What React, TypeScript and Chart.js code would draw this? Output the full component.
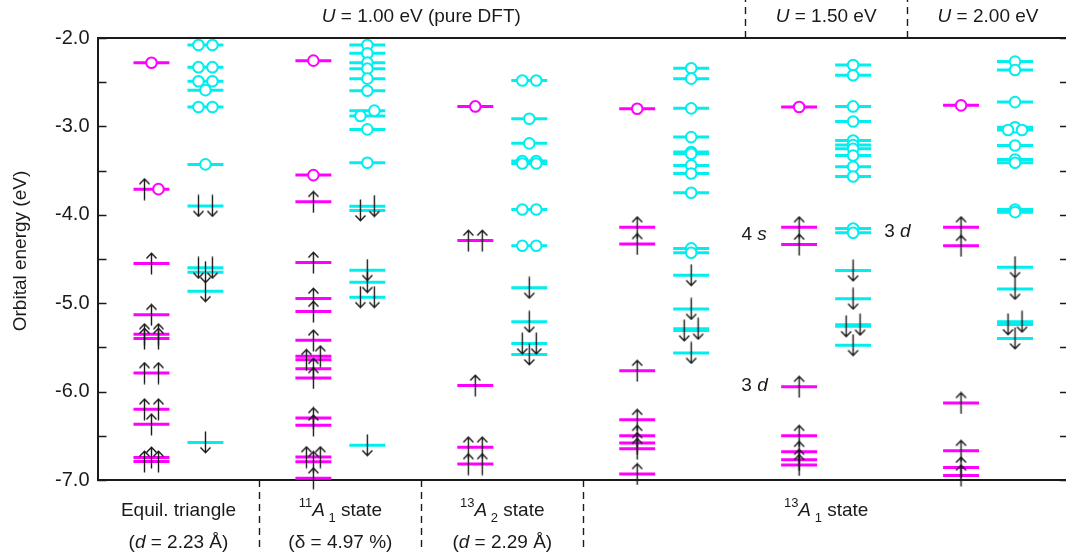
import React, { useEffect, useRef } from 'react';
import { Chart, registerables } from 'chart.js';
Chart.register(...registerables);

const MAGENTA = '#ff00ff';
const CYAN = '#00eeee';
const INK = '#1a1a1a';
const FONT = '"Liberation Sans", Arial, Helvetica, sans-serif';

// x axis: 6 configurations, one unit each; majority spin column at g+1/3, minority at g+2/3
const groupCount = 6;
const yMin = -7.0;
const yMax = -2.0;
const yStep = 0.5;

// Each electron / hole entry: [energy (eV), slot (-1 left, 0 centre, +1 right)]
type Mark = [number, number];

// Group 0: equilateral triangle (U = 1.00 eV)
const eqMajLevels = [-2.28, -3.71, -4.55, -5.13, -5.35, -5.40, -5.79, -6.20, -6.37, -6.745, -6.79];
const eqMajElectrons: Mark[] = [[-3.71, -1], [-4.55, 0], [-5.13, 0], [-5.35, -1], [-5.35, 1], [-5.40, -1], [-5.40, 1], [-5.79, -1], [-5.79, 1], [-6.20, -1], [-6.20, 1], [-6.37, 0], [-6.745, 0], [-6.79, -1], [-6.79, 1]];
const eqMajHoles: Mark[] = [[-2.28, 0], [-3.71, 1]];
const eqMinLevels = [-2.08, -2.33, -2.49, -2.59, -2.78, -3.43, -3.90, -4.60, -4.65, -4.865, -6.575];
const eqMinElectrons: Mark[] = [[-3.90, -1], [-3.90, 1], [-4.60, -1], [-4.60, 1], [-4.65, 0], [-4.865, 0], [-6.575, 0]];
const eqMinHoles: Mark[] = [[-2.08, -1], [-2.08, 1], [-2.33, -1], [-2.33, 1], [-2.49, -1], [-2.49, 1], [-2.59, 0], [-2.78, -1], [-2.78, 1], [-3.43, 0]];

// Group 1: 11A1 state
const a11MajLevels = [-2.256, -3.551, -3.853, -4.54, -4.947, -5.095, -5.42, -5.60, -5.64, -5.741, -5.846, -6.298, -6.382, -6.741, -6.794, -6.98];
const a11MajElectrons: Mark[] = [[-3.853, 0], [-4.54, 0], [-4.947, 0], [-5.095, 0], [-5.42, 0], [-5.60, 1], [-5.64, -1], [-5.741, 0], [-5.846, 0], [-6.298, 0], [-6.382, 0], [-6.741, -1], [-6.741, 1], [-6.794, 0], [-6.98, 0]];
const a11MajHoles: Mark[] = [[-2.256, 0], [-3.551, 0]];
const a11MinLevels = [-2.079, -2.173, -2.279, -2.347, -2.46, -2.596, -2.822, -2.883, -3.034, -3.411, -3.902, -3.951, -4.626, -4.762, -4.932, -6.608];
const a11MinElectrons: Mark[] = [[-3.902, 1], [-3.951, -1], [-4.626, 0], [-4.762, 0], [-4.932, -1], [-4.932, 1], [-6.608, 0]];
const a11MinHoles: Mark[] = [[-2.079, 0], [-2.173, 0], [-2.279, 0], [-2.347, 0], [-2.46, 0], [-2.596, 0], [-2.822, 1], [-2.883, -1], [-3.034, 0], [-3.411, 0]];

// Group 2: 13A2 state
const a2MajLevels = [-2.774, -4.291, -5.93, -6.63, -6.82];
const a2MajElectrons: Mark[] = [[-4.291, -1], [-4.291, 1], [-5.93, 0], [-6.63, -1], [-6.63, 1], [-6.82, -1], [-6.82, 1]];
const a2MajHoles: Mark[] = [[-2.774, 0]];
const a2MinLevels = [-2.48, -2.913, -3.192, -3.392, -3.419, -3.94, -4.35, -4.826, -5.211, -5.457, -5.58];
const a2MinElectrons: Mark[] = [[-4.826, 0], [-5.211, 0], [-5.457, -1], [-5.457, 1], [-5.58, 0]];
const a2MinHoles: Mark[] = [[-2.48, -1], [-2.48, 1], [-2.913, 0], [-3.192, 0], [-3.392, -1], [-3.392, 1], [-3.419, -1], [-3.419, 1], [-3.94, -1], [-3.94, 1], [-4.35, -1], [-4.35, 1]];

// Group 3: 13A1 state, U = 1.00 eV
const u100MajLevels = [-2.80, -4.14, -4.33, -5.763, -6.318, -6.499, -6.582, -6.646, -6.932];
const u100MajElectrons: Mark[] = [[-4.14, 0], [-4.33, 0], [-5.763, 0], [-6.318, 0], [-6.499, 0], [-6.582, 0], [-6.646, 0], [-6.932, 0]];
const u100MajHoles: Mark[] = [[-2.80, 0]];
const u100MinLevels = [-2.343, -2.46, -2.796, -3.121, -3.29, -3.31, -3.441, -3.532, -3.751, -4.38, -4.43, -4.684, -5.065, -5.29, -5.31, -5.563];
const u100MinElectrons: Mark[] = [[-4.684, 0], [-5.065, 0], [-5.29, 1], [-5.31, -1], [-5.563, 0]];
const u100MinHoles: Mark[] = [[-2.343, 0], [-2.46, 0], [-2.796, 0], [-3.121, 0], [-3.29, 0], [-3.31, 0], [-3.441, 0], [-3.532, 0], [-3.751, 0], [-4.38, 0], [-4.43, 0]];

// Group 4: 13A1 state, U = 1.50 eV
const u150MajLevels = [-2.781, -4.14, -4.336, -5.944, -6.499, -6.68, -6.77, -6.83];
const u150MajElectrons: Mark[] = [[-4.14, 0], [-4.336, 0], [-5.944, 0], [-6.499, 0], [-6.68, 0], [-6.77, 0], [-6.83, 0]];
const u150MajHoles: Mark[] = [[-2.781, 0]];
const u150MinLevels = [-2.305, -2.422, -2.774, -2.944, -3.16, -3.21, -3.253, -3.329, -3.456, -3.566, -4.155, -4.204, -4.631, -4.95, -5.244, -5.262, -5.475];
const u150MinElectrons: Mark[] = [[-4.631, 0], [-4.95, 0], [-5.244, 1], [-5.262, -1], [-5.475, 0]];
const u150MinHoles: Mark[] = [[-2.305, 0], [-2.422, 0], [-2.774, 0], [-2.944, 0], [-3.16, 0], [-3.21, 0], [-3.253, 0], [-3.329, 0], [-3.456, 0], [-3.566, 0], [-4.155, 0], [-4.204, 0]];

// Group 5: 13A1 state, U = 2.00 eV
const u200MajLevels = [-2.762, -4.14, -4.35, -6.128, -6.669, -6.858, -6.948];
const u200MajElectrons: Mark[] = [[-4.14, 0], [-4.35, 0], [-6.128, 0], [-6.669, 0], [-6.858, 0], [-6.948, 0]];
const u200MajHoles: Mark[] = [[-2.762, 0]];
const u200MinLevels = [-2.267, -2.362, -2.725, -3.01, -3.04, -3.216, -3.374, -3.411, -3.94, -3.97, -4.593, -4.838, -5.21, -5.24, -5.40];
const u200MinElectrons: Mark[] = [[-4.593, 0], [-4.838, 0], [-5.21, 1], [-5.24, -1], [-5.40, 0]];
const u200MinHoles: Mark[] = [[-2.267, 0], [-2.362, 0], [-2.725, 0], [-3.01, 0], [-3.04, -1], [-3.04, 1], [-3.216, 0], [-3.374, 0], [-3.411, 0], [-3.94, 0], [-3.97, 0]];

const majorityColumns = [
  { levels: eqMajLevels, electrons: eqMajElectrons, holes: eqMajHoles },
  { levels: a11MajLevels, electrons: a11MajElectrons, holes: a11MajHoles },
  { levels: a2MajLevels, electrons: a2MajElectrons, holes: a2MajHoles },
  { levels: u100MajLevels, electrons: u100MajElectrons, holes: u100MajHoles },
  { levels: u150MajLevels, electrons: u150MajElectrons, holes: u150MajHoles },
  { levels: u200MajLevels, electrons: u200MajElectrons, holes: u200MajHoles },
];
const minorityColumns = [
  { levels: eqMinLevels, electrons: eqMinElectrons, holes: eqMinHoles },
  { levels: a11MinLevels, electrons: a11MinElectrons, holes: a11MinHoles },
  { levels: a2MinLevels, electrons: a2MinElectrons, holes: a2MinHoles },
  { levels: u100MinLevels, electrons: u100MinElectrons, holes: u100MinHoles },
  { levels: u150MinLevels, electrons: u150MinElectrons, holes: u150MinHoles },
  { levels: u200MinLevels, electrons: u200MinElectrons, holes: u200MinHoles },
];

// Text
type Run = { t: string; it?: boolean; sup?: boolean; sub?: boolean };
const topLabels: { from: number; to: number; runs: Run[] }[] = [
  { from: 0, to: 4, runs: [{ t: 'U', it: true }, { t: ' = 1.00 eV (pure DFT)' }] },
  { from: 4, to: 5, runs: [{ t: 'U', it: true }, { t: ' = 1.50 eV' }] },
  { from: 5, to: 6, runs: [{ t: 'U', it: true }, { t: ' = 2.00 eV' }] },
];
const bottomLabels: { from: number; to: number; line1: Run[]; line2: Run[] }[] = [
  { from: 0, to: 1, line1: [{ t: 'Equil. triangle' }], line2: [{ t: '(' }, { t: 'd', it: true }, { t: ' = 2.23 Å)' }] },
  { from: 1, to: 2, line1: [{ t: '11', sup: true }, { t: 'A', it: true }, { t: ' 1', sub: true }, { t: ' state' }], line2: [{ t: '(δ = 4.97 %)' }] },
  { from: 2, to: 3, line1: [{ t: '13', sup: true }, { t: 'A', it: true }, { t: ' 2', sub: true }, { t: ' state' }], line2: [{ t: '(' }, { t: 'd', it: true }, { t: ' = 2.29 Å)' }] },
  { from: 3, to: 6, line1: [{ t: '13', sup: true }, { t: 'A', it: true }, { t: ' 1', sub: true }, { t: ' state' }], line2: [] },
];
const topSeparators = [4, 5];
const bottomSeparators = [1, 2, 3];
const orbitalNotes: { x: number; y: number; runs: Run[] }[] = [
  { x: 4.055, y: -4.225, runs: [{ t: '4 ' }, { t: 's', it: true }] },
  { x: 4.94, y: -4.19, runs: [{ t: '3 ' }, { t: 'd', it: true }] },
  { x: 4.058, y: -5.935, runs: [{ t: '3 ' }, { t: 'd', it: true }] },
];
const yTitle = 'Orbital energy (eV)';

const HALF = 0.111; // half width of a level bar (x units)
const SLOT = 0.0431; // offset between side-by-side markers (x units)

function drawRich(ctx: CanvasRenderingContext2D, runs: Run[], cx: number, cy: number, size: number) {
  const fontFor = (r: Run) => `${r.it ? 'italic ' : ''}${r.sup || r.sub ? Math.round(size * 0.7) : size}px ${FONT}`;
  let w = 0;
  for (const r of runs) { ctx.font = fontFor(r); w += ctx.measureText(r.t).width; }
  let x = cx - w / 2;
  ctx.textAlign = 'left';
  ctx.textBaseline = 'middle';
  for (const r of runs) {
    ctx.font = fontFor(r);
    const dy = r.sup ? -size * 0.42 : r.sub ? size * 0.38 : 0;
    ctx.fillText(r.t, x, cy + dy);
    x += ctx.measureText(r.t).width;
  }
}

function makeArrow(up: boolean): HTMLCanvasElement {
  const c = document.createElement('canvas');
  c.width = 13; c.height = 23;
  const g = c.getContext('2d')!;
  g.strokeStyle = INK; g.lineWidth = 1.4;
  g.beginPath();
  if (up) {
    g.moveTo(6.5, 22.5); g.lineTo(6.5, 1);
    g.moveTo(1.5, 6.5); g.lineTo(6.5, 1.2); g.lineTo(11.5, 6.5);
  } else {
    g.moveTo(6.5, 0.5); g.lineTo(6.5, 22);
    g.moveTo(1.5, 16.5); g.lineTo(6.5, 21.8); g.lineTo(11.5, 16.5);
  }
  g.stroke();
  return c;
}

const decorPlugin = {
  id: 'decor',
  afterDraw(chart: any) {
    const { ctx, chartArea: a, scales } = chart;
    const x = scales.x, y = scales.y;
    ctx.save();
    ctx.strokeStyle = INK;
    ctx.lineWidth = 2.2;
    ctx.beginPath();
    ctx.moveTo(a.left, a.top); ctx.lineTo(a.right, a.top); ctx.lineTo(a.right, a.bottom);
    ctx.stroke();
    ctx.lineWidth = 1.3;
    ctx.beginPath();
    for (const t of y.ticks) {
      const py = Math.round(y.getPixelForValue(t.value)) + 0.5;
      ctx.moveTo(a.left, py); ctx.lineTo(a.left + 9, py);
      ctx.moveTo(a.right - 9, py); ctx.lineTo(a.right, py);
    }
    ctx.stroke();
    ctx.setLineDash([7, 5]);
    ctx.lineWidth = 1.4;
    ctx.beginPath();
    for (const b of bottomSeparators) {
      const px = Math.round(x.getPixelForValue(b)) + 0.5;
      ctx.moveTo(px, a.bottom); ctx.lineTo(px, a.bottom + 72);
    }
    for (const b of topSeparators) {
      const px = Math.round(x.getPixelForValue(b)) + 0.5;
      ctx.moveTo(px, a.top); ctx.lineTo(px, 0);
    }
    ctx.stroke();
    ctx.setLineDash([]);
    ctx.fillStyle = INK;
    for (const l of topLabels) {
      const cx = (x.getPixelForValue(l.from) + x.getPixelForValue(l.to)) / 2;
      drawRich(ctx, l.runs, cx, 17, 19);
    }
    for (const l of bottomLabels) {
      const cx = (x.getPixelForValue(l.from) + x.getPixelForValue(l.to)) / 2;
      drawRich(ctx, l.line1, cx, a.bottom + 31, 19);
      if (l.line2.length) drawRich(ctx, l.line2, cx, a.bottom + 63, 19);
    }
    for (const n of orbitalNotes) {
      drawRich(ctx, n.runs, x.getPixelForValue(n.x), y.getPixelForValue(n.y), 19);
    }
    ctx.translate(21, (a.top + a.bottom) / 2 - 8);
    ctx.rotate(-Math.PI / 2);
    ctx.font = `19px ${FONT}`;
    ctx.textAlign = 'center';
    ctx.textBaseline = 'middle';
    ctx.fillText(yTitle, 0, 0);
    ctx.restore();
  },
};

function levelSegments(cols: typeof majorityColumns, offset: number) {
  const pts: any[] = [];
  cols.forEach((c, g) => {
    const cx = g + offset;
    for (const e of c.levels) {
      pts.push({ x: cx - HALF, y: e }, { x: cx + HALF, y: e }, { x: cx + HALF, y: null });
    }
  });
  return pts;
}
function markPoints(cols: typeof majorityColumns, offset: number, key: 'electrons' | 'holes') {
  const pts: any[] = [];
  cols.forEach((c, g) => {
    for (const [e, s] of c[key]) pts.push({ x: g + offset + s * SLOT, y: e });
  });
  return pts;
}

export default function App() {
  const ref = useRef<HTMLCanvasElement>(null);
  useEffect(() => {
    const canvas = ref.current!;
    const upArrow = makeArrow(true);
    const downArrow = makeArrow(false);
    const majOff = 1 / 3, minOff = 2 / 3;
    const lineDs = (data: any[], color: string) => ({
      data, showLine: true, spanGaps: false, borderColor: color, borderWidth: 3,
      pointRadius: 0, borderCapStyle: 'butt', order: 3, clip: false,
    });
    const holeDs = (data: any[], color: string) => ({
      data, showLine: false, pointStyle: 'circle', pointRadius: 5.3, borderWidth: 2,
      borderColor: color, backgroundColor: '#ffffff', order: 2, clip: false,
    });
    const arrowDs = (data: any[], img: HTMLCanvasElement) => ({
      data, showLine: false, pointStyle: img, pointRadius: 10, order: 1, clip: false,
    });
    const chart = new Chart(canvas, {
      type: 'scatter',
      data: {
        datasets: [
          lineDs(levelSegments(majorityColumns, majOff), MAGENTA),
          lineDs(levelSegments(minorityColumns, minOff), CYAN),
          holeDs(markPoints(majorityColumns, majOff, 'holes'), MAGENTA),
          holeDs(markPoints(minorityColumns, minOff, 'holes'), CYAN),
          arrowDs(markPoints(majorityColumns, majOff, 'electrons'), upArrow),
          arrowDs(markPoints(minorityColumns, minOff, 'electrons'), downArrow),
        ] as any,
      },
      options: {
        animation: false,
        responsive: false,
        events: [],
        layout: { padding: { top: 38, right: 7.5, left: 0, bottom: 0 } },
        plugins: { legend: { display: false }, tooltip: { enabled: false } },
        scales: {
          x: {
            type: 'linear', min: 0, max: groupCount,
            ticks: { display: false },
            grid: { display: false, drawTicks: false },
            border: { display: true, color: INK, width: 2 },
            afterFit: (s: any) => { s.height = 75; },
          },
          y: {
            min: yMin, max: yMax,
            ticks: {
              stepSize: yStep,
              callback: (v: any) => (Math.abs(v % 1) < 1e-9 ? Number(v).toFixed(1) : ''),
              color: INK, padding: 8,
              font: { family: FONT, size: 20 },
            },
            grid: { display: false, drawTicks: false },
            border: { display: true, color: INK, width: 2 },
            afterFit: (s: any) => { s.width = 97.5; },
          },
        },
      } as any,
      plugins: [decorPlugin],
    });
    return () => chart.destroy();
  }, []);
  return (
    <div style={{ position: 'fixed', left: 0, top: 0, width: 1066, height: 555, overflow: 'hidden', background: '#fff' }}>
      <canvas ref={ref} width={1080} height={555} style={{ display: 'block', width: 1080, height: 555 }} />
    </div>
  );
}
